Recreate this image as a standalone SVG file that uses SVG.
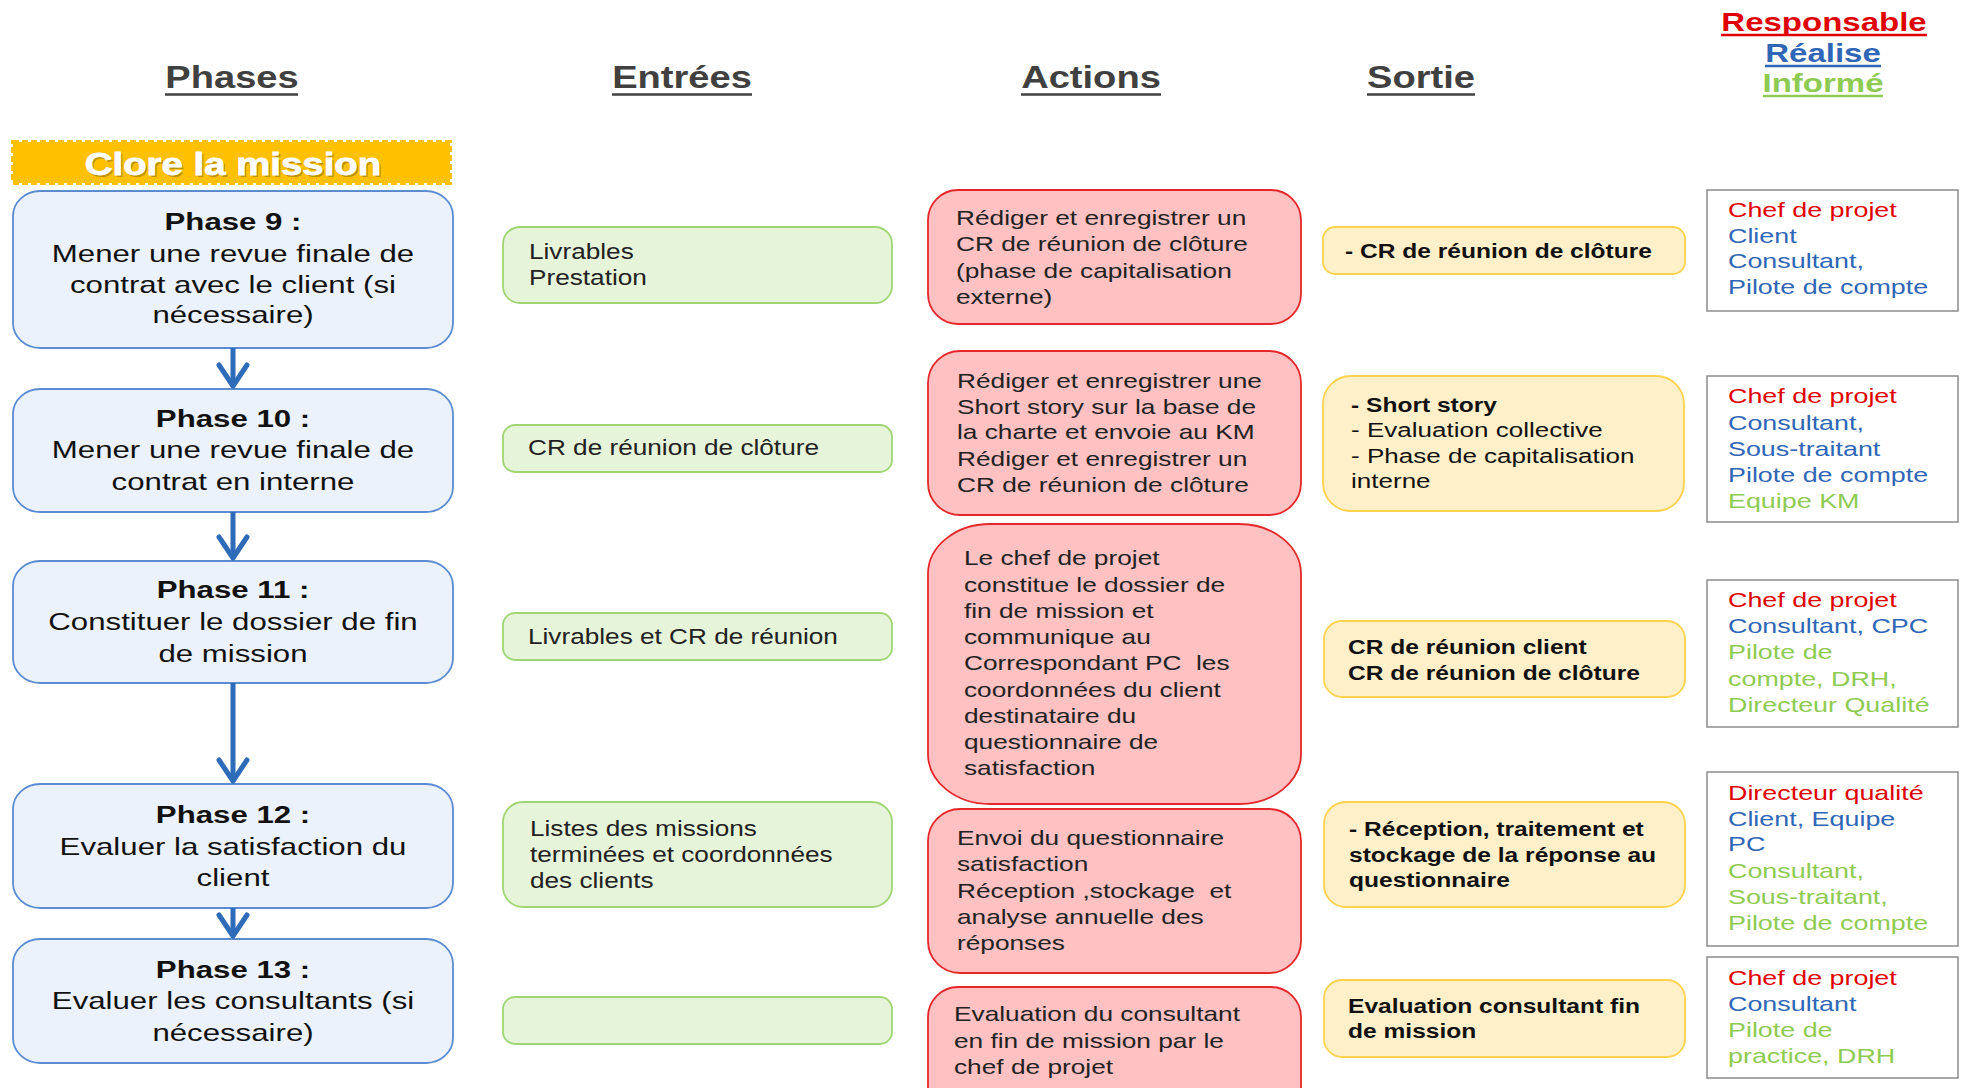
<svg xmlns="http://www.w3.org/2000/svg" width="1966" height="1088" viewBox="0 0 1966 1088">
<style>
text{font-family:"Liberation Sans",Arial,sans-serif;}
.hdr{font-size:32px;font-weight:bold;fill:#404040;text-anchor:middle;}
.ul{stroke-width:2.5;}
.raci-h{font-size:25px;font-weight:bold;text-anchor:middle;}
.phase{fill:#EBF2FB;stroke:#5B8CD2;stroke-width:1.8;}
.ent{fill:#E6F4D9;stroke:#9FD673;stroke-width:1.8;}
.act{fill:#FFC1C1;stroke:#E5272B;stroke-width:1.8;}
.out{fill:#FFF0C9;stroke:#FFD24D;stroke-width:1.8;}
.raci{fill:#FFFFFF;stroke:#8C8C8C;stroke-width:1.5;}
.pt{font-size:24px;fill:#111;text-anchor:middle;}
.pt .b{font-weight:bold;}
.et{font-size:22px;fill:#222;}
.at{font-size:21px;fill:#222;}
.st{font-size:21px;fill:#111;}
.sb{font-size:21px;fill:#111;font-weight:bold;}
.rt{font-size:21px;}
.r{fill:#E00000;}
.bl{fill:#2F66B6;}
.g{fill:#8ECB52;}
.conn{stroke:#2E6BB8;stroke-width:5;fill:none;}
</style>
<defs>
<marker id="chev" markerUnits="userSpaceOnUse" orient="auto" overflow="visible" markerWidth="1" markerHeight="1" refX="0" refY="0">
<path d="M-21,-14 L0,0 L-21,14" fill="none" stroke="#2E6BB8" stroke-width="5" stroke-linecap="round" stroke-linejoin="round"/>
</marker>
</defs>
<rect width="1966" height="1088" fill="#FFFFFF"/>

<g id="headers">
<text class="hdr" transform="matrix(1.19 0 0 1 232 0)" x="0" y="88">Phases</text>
<line class="ul" x1="165" y1="94.5" x2="298" y2="94.5" stroke="#404040"/>
<text class="hdr" transform="matrix(1.19 0 0 1 682 0)" x="0" y="88">Entrées</text>
<line class="ul" x1="612" y1="94.5" x2="752" y2="94.5" stroke="#404040"/>
<text class="hdr" transform="matrix(1.19 0 0 1 1091 0)" x="0" y="88">Actions</text>
<line class="ul" x1="1021" y1="94.5" x2="1161" y2="94.5" stroke="#404040"/>
<text class="hdr" transform="matrix(1.19 0 0 1 1421 0)" x="0" y="88">Sortie</text>
<line class="ul" x1="1367" y1="94.5" x2="1475" y2="94.5" stroke="#404040"/>
<text class="raci-h r" transform="matrix(1.32 0 0 1 1824 0)" x="0" y="31">Responsable</text>
<line class="ul" x1="1721" y1="35" x2="1927" y2="35" stroke="#E00000"/>
<text class="raci-h bl" transform="matrix(1.32 0 0 1 1823 0)" x="0" y="62">Réalise</text>
<line class="ul" x1="1765" y1="66" x2="1881" y2="66" stroke="#2F66B6"/>
<text class="raci-h g" transform="matrix(1.32 0 0 1 1823 0)" x="0" y="92">Informé</text>
<line class="ul" x1="1763" y1="96" x2="1883" y2="96" stroke="#8ECB52"/>
</g>

<g id="banner">
<rect x="13" y="142" width="437" height="41" fill="#FFC000" stroke="#FFC000" stroke-width="4" stroke-dasharray="6 3"/>
<text transform="matrix(1.2 0 0 1 233 0)" x="1.5" y="177.5" font-size="32" font-weight="bold" text-anchor="middle" fill="#8a6a00" fill-opacity="0.55">Clore la mission</text>
<text transform="matrix(1.2 0 0 1 233 0)" x="0" y="175" font-size="32" font-weight="bold" text-anchor="middle" fill="#FFFFFF" stroke="#FFFFFF" stroke-width="0.8">Clore la mission</text>
</g>

<g id="phase9">
<rect class="phase" x="13" y="191" width="440" height="157" rx="27" ry="25"/>
<text class="pt" transform="matrix(1.3 0 0 1 233 0)"><tspan class="b" x="0" y="230">Phase 9 :</tspan><tspan x="0" y="262">Mener une revue finale de</tspan><tspan x="0" y="293">contrat avec le client (si</tspan><tspan x="0" y="323">nécessaire)</tspan></text>
</g>
<g id="phase10">
<rect class="phase" x="13" y="389" width="440" height="123" rx="27" ry="25"/>
<text class="pt" transform="matrix(1.3 0 0 1 233 0)"><tspan class="b" x="0" y="427">Phase 10 :</tspan><tspan x="0" y="458">Mener une revue finale de</tspan><tspan x="0" y="490">contrat en interne</tspan></text>
</g>
<g id="phase11">
<rect class="phase" x="13" y="561" width="440" height="122" rx="27" ry="25"/>
<text class="pt" transform="matrix(1.3 0 0 1 233 0)"><tspan class="b" x="0" y="598">Phase 11 :</tspan><tspan x="0" y="630">Constituer le dossier de fin</tspan><tspan x="0" y="662">de mission</tspan></text>
</g>
<g id="phase12">
<rect class="phase" x="13" y="784" width="440" height="124" rx="27" ry="25"/>
<text class="pt" transform="matrix(1.3 0 0 1 233 0)"><tspan class="b" x="0" y="823">Phase 12 :</tspan><tspan x="0" y="855">Evaluer la satisfaction du</tspan><tspan x="0" y="886">client</tspan></text>
</g>
<g id="phase13">
<rect class="phase" x="13" y="939" width="440" height="124" rx="27" ry="25"/>
<text class="pt" transform="matrix(1.3 0 0 1 233 0)"><tspan class="b" x="0" y="978">Phase 13 :</tspan><tspan x="0" y="1009">Evaluer les consultants (si</tspan><tspan x="0" y="1041">nécessaire)</tspan></text>
</g>

<g id="connectors">
<line class="conn" x1="233" y1="348" x2="233" y2="386" marker-end="url(#chev)"/>
<line class="conn" x1="233" y1="512" x2="233" y2="558" marker-end="url(#chev)"/>
<line class="conn" x1="233" y1="683" x2="233" y2="781" marker-end="url(#chev)"/>
<line class="conn" x1="233" y1="908" x2="233" y2="936" marker-end="url(#chev)"/>
</g>

<g id="entree9">
<rect class="ent" x="503" y="227" width="389" height="76" rx="17"/>
<text class="et" transform="matrix(1.19 0 0 1 529 0)"><tspan x="0" y="259">Livrables</tspan><tspan x="0" y="285">Prestation</tspan></text>
</g>
<g id="entree10">
<rect class="ent" x="503" y="425" width="389" height="47" rx="12"/>
<text class="et" transform="matrix(1.19 0 0 1 528 0)" x="0" y="455">CR de réunion de clôture</text>
</g>
<g id="entree11">
<rect class="ent" x="503" y="613" width="389" height="47" rx="12"/>
<text class="et" transform="matrix(1.19 0 0 1 528 0)" x="0" y="644">Livrables et CR de réunion</text>
</g>
<g id="entree12">
<rect class="ent" x="503" y="802" width="389" height="105" rx="20"/>
<text class="et" transform="matrix(1.19 0 0 1 530 0)"><tspan x="0" y="836">Listes des missions</tspan><tspan x="0" y="862">terminées et coordonnées</tspan><tspan x="0" y="888">des clients</tspan></text>
</g>
<g id="entree13">
<rect class="ent" x="503" y="997" width="389" height="47" rx="12"/>
</g>

<g id="action9">
<rect class="act" x="928" y="190" width="373" height="134" rx="30"/>
<text class="at" transform="matrix(1.25 0 0 1 956 0)"><tspan x="0" y="225">Rédiger et enregistrer un</tspan><tspan x="0" y="251">CR de réunion de clôture</tspan><tspan x="0" y="278">(phase de capitalisation</tspan><tspan x="0" y="304">externe)</tspan></text>
</g>
<g id="action10">
<rect class="act" x="928" y="351" width="373" height="164" rx="32"/>
<text class="at" transform="matrix(1.25 0 0 1 957 0)"><tspan x="0" y="388">Rédiger et enregistrer une</tspan><tspan x="0" y="414">Short story sur la base de</tspan><tspan x="0" y="439">la charte et envoie au KM</tspan><tspan x="0" y="466">Rédiger et enregistrer un</tspan><tspan x="0" y="492">CR de réunion de clôture</tspan></text>
</g>
<g id="action11">
<rect class="act" x="928" y="524" width="373" height="280" rx="62" ry="50"/>
<text class="at" transform="matrix(1.25 0 0 1 964 0)"><tspan x="0" y="565">Le chef de projet</tspan><tspan x="0" y="592">constitue le dossier de</tspan><tspan x="0" y="618">fin de mission et</tspan><tspan x="0" y="644">communique au</tspan><tspan x="0" y="670">Correspondant PC&#160; les</tspan><tspan x="0" y="697">coordonnées du client</tspan><tspan x="0" y="723">destinataire du</tspan><tspan x="0" y="749">questionnaire de</tspan><tspan x="0" y="775">satisfaction</tspan></text>
</g>
<g id="action12">
<rect class="act" x="928" y="809" width="373" height="164" rx="32"/>
<text class="at" transform="matrix(1.25 0 0 1 957 0)"><tspan x="0" y="845">Envoi du questionnaire</tspan><tspan x="0" y="871">satisfaction</tspan><tspan x="0" y="898">Réception ,stockage&#160; et</tspan><tspan x="0" y="924">analyse annuelle des</tspan><tspan x="0" y="950">réponses</tspan></text>
</g>
<g id="action13">
<rect class="act" x="928" y="987" width="373" height="130" rx="30"/>
<text class="at" transform="matrix(1.25 0 0 1 954 0)"><tspan x="0" y="1021">Evaluation du consultant</tspan><tspan x="0" y="1048">en fin de mission par le</tspan><tspan x="0" y="1074">chef de projet</tspan></text>
</g>

<g id="sortie9">
<rect class="out" x="1323" y="227" width="362" height="47" rx="12"/>
<text class="sb" transform="matrix(1.17 0 0 1 1345 0)" x="0" y="258">- CR de réunion de clôture</text>
</g>
<g id="sortie10">
<rect class="out" x="1323" y="376" width="361" height="135" rx="28"/>
<text class="sb" transform="matrix(1.17 0 0 1 1351 0)" x="0" y="412">- Short story</text>
<text class="st" transform="matrix(1.24 0 0 1 1351 0)"><tspan x="0" y="437">- Evaluation collective</tspan><tspan x="0" y="463">- Phase de capitalisation</tspan><tspan x="0" y="488">interne</tspan></text>
</g>
<g id="sortie11">
<rect class="out" x="1324" y="621" width="361" height="76" rx="18"/>
<text class="sb" transform="matrix(1.17 0 0 1 1348 0)"><tspan x="0" y="654">CR de réunion client</tspan><tspan x="0" y="680">CR de réunion de clôture</tspan></text>
</g>
<g id="sortie12">
<rect class="out" x="1324" y="802" width="361" height="105" rx="22"/>
<text class="sb" transform="matrix(1.17 0 0 1 1349 0)"><tspan x="0" y="836">- Réception, traitement et</tspan><tspan x="0" y="862">stockage de la réponse au</tspan><tspan x="0" y="887">questionnaire</tspan></text>
</g>
<g id="sortie13">
<rect class="out" x="1324" y="980" width="361" height="77" rx="18"/>
<text class="sb" transform="matrix(1.17 0 0 1 1348 0)"><tspan x="0" y="1013">Evaluation consultant fin</tspan><tspan x="0" y="1038">de mission</tspan></text>
</g>

<g id="raci9">
<rect class="raci" x="1707" y="190" width="251" height="121"/>
<text class="rt" transform="matrix(1.28 0 0 1 1728 0)"><tspan class="r" x="0" y="217">Chef de projet</tspan><tspan class="bl" x="0" y="243">Client</tspan><tspan class="bl" x="0" y="268">Consultant,</tspan><tspan class="bl" x="0" y="294">Pilote de compte</tspan></text>
</g>
<g id="raci10">
<rect class="raci" x="1707" y="376" width="251" height="146"/>
<text class="rt" transform="matrix(1.28 0 0 1 1728 0)"><tspan class="r" x="0" y="403">Chef de projet</tspan><tspan class="bl" x="0" y="430">Consultant,</tspan><tspan class="bl" x="0" y="456">Sous-traitant</tspan><tspan class="bl" x="0" y="482">Pilote de compte</tspan><tspan class="g" x="0" y="508">Equipe KM</tspan></text>
</g>
<g id="raci11">
<rect class="raci" x="1707" y="580" width="251" height="147"/>
<text class="rt" transform="matrix(1.28 0 0 1 1728 0)"><tspan class="r" x="0" y="607">Chef de projet</tspan><tspan class="bl" x="0" y="633">Consultant, CPC</tspan><tspan class="g" x="0" y="659">Pilote de</tspan><tspan class="g" x="0" y="686">compte, DRH,</tspan><tspan class="g" x="0" y="712">Directeur Qualité</tspan></text>
</g>
<g id="raci12">
<rect class="raci" x="1707" y="772" width="251" height="174"/>
<text class="rt" transform="matrix(1.28 0 0 1 1728 0)"><tspan class="r" x="0" y="800">Directeur qualité</tspan><tspan class="bl" x="0" y="826">Client, Equipe</tspan><tspan class="bl" x="0" y="851">PC</tspan><tspan class="g" x="0" y="878">Consultant,</tspan><tspan class="g" x="0" y="904">Sous-traitant,</tspan><tspan class="g" x="0" y="930">Pilote de compte</tspan></text>
</g>
<g id="raci13">
<rect class="raci" x="1707" y="957" width="251" height="121"/>
<text class="rt" transform="matrix(1.28 0 0 1 1728 0)"><tspan class="r" x="0" y="985">Chef de projet</tspan><tspan class="bl" x="0" y="1011">Consultant</tspan><tspan class="g" x="0" y="1037">Pilote de</tspan><tspan class="g" x="0" y="1063">practice, DRH</tspan></text>
</g>
</svg>
